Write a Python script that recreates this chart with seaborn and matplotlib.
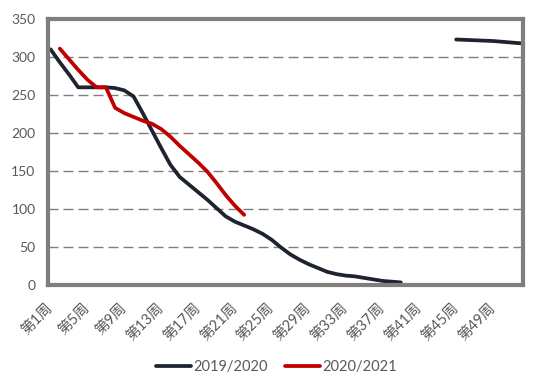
import numpy as np
import pandas as pd
import matplotlib
matplotlib.use("Agg")
import matplotlib.pyplot as plt
import seaborn as sns

# ---- data ----
weeks = list(range(1, 53))
week_labels = [f"第{w}周" for w in weeks]
season_names = ["2019/2020", "2020/2021"]

values_1920 = [310, 293, 277, 260, 260, 260, 260, 259, 256, 248,
               226, 203, 180, 158, 142, 132, 122, 112, 101, 90,
               83, 78, 73, 67, 59, 49, 40, 33, 27, 22,
               17, 14, 12, 11, 9, 7, 5, 4, 3, None,
               None, None, None, None, 323, 322.5, 322, 321.5, 321, 320,
               319, 318]
values_2021 = [None, 311, 297, 283, 270, 260, 260, 233, 226, 221,
               216, 212, 205, 195, 183, 172, 161, 149, 134, 118,
               104, 92] + [None] * 30

y_ticks = [0, 50, 100, 150, 200, 250, 300, 350]

# ---- build long table with segment ids so gaps are preserved ----
rows = []
for name, vals in zip(season_names, [values_1920, values_2021]):
    seg = 0
    prev_nan = True
    for w, v in zip(weeks, vals):
        if v is None:
            prev_nan = True
            continue
        if prev_nan:
            seg += 1
            prev_nan = False
        rows.append({"week": w, "value": v, "season": name, "segment": seg})
df = pd.DataFrame(rows)

sns.set_theme(style="white")
plt.rcParams["font.family"] = ["Lato", "Noto Sans CJK SC", "DejaVu Sans"]

fig = plt.figure(figsize=(5.5, 3.92), dpi=100)
ax = fig.add_axes([48 / 550, 1 - 284.7 / 392, 475 / 550, (284.7 - 19) / 392])

palette = {"2019/2020": "#1d2430", "2020/2021": "#c00000"}
sns.lineplot(data=df, x="week", y="value", hue="season", units="segment",
             estimator=None, palette=palette, linewidth=2.7, ax=ax,
             solid_capstyle="round", solid_joinstyle="round", zorder=3)

handles, labels = ax.get_legend_handles_labels()
if ax.get_legend() is not None:
    ax.get_legend().remove()

ax.set_xlim(0.72, 52.25)
ax.set_ylim(0, 350)
ax.set_yticks(y_ticks)
ax.set_xticks(weeks[::4])
ax.set_xticklabels(week_labels[::4], rotation=45, ha="right", va="center",
                   rotation_mode="anchor")
ax.set_xlabel("")
ax.set_ylabel("")

for y in y_ticks[1:-1]:
    ax.axhline(y, color="#7f7f7f", linewidth=1.0, linestyle=(0, (7.2, 3.6)), zorder=1)

for s in ax.spines.values():
    s.set_visible(True)
    s.set_color("#7f7f7f")
    s.set_linewidth(3.0)
    s.set_zorder(4)

ax.tick_params(axis="y", length=0, pad=9, labelsize=10, labelcolor="#595959")
ax.tick_params(axis="x", length=0, pad=15, labelsize=10.5, labelcolor="#595959")

fig.legend(handles, labels, loc="center", bbox_to_anchor=(0.503, 0.0645),
           ncol=2, frameon=False, fontsize=10.5, labelcolor="#595959",
           handlelength=2.4, handletextpad=0.15, columnspacing=1.2)

fig.savefig("out.png", dpi=100)
